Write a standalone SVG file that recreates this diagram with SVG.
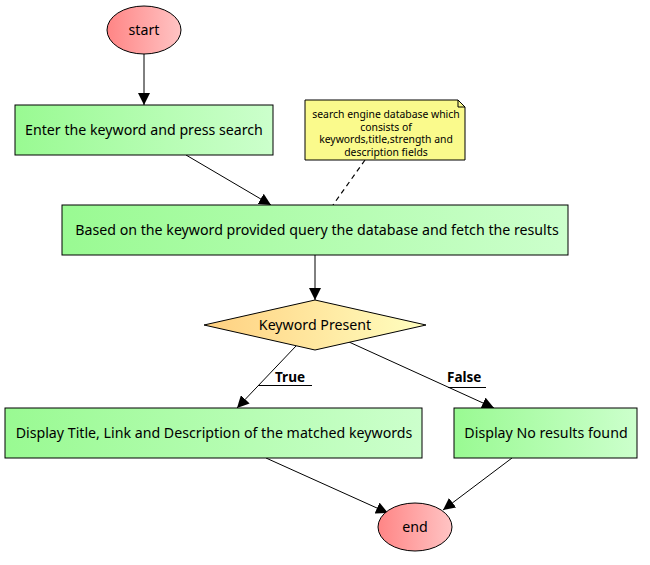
<svg xmlns="http://www.w3.org/2000/svg" width="650" height="565" viewBox="0 0 650 565">
<defs>
<linearGradient id="gGreen" x1="0" y1="0" x2="1" y2="0"><stop offset="0" stop-color="#99fa92"/><stop offset="1" stop-color="#ccffcc"/></linearGradient>
<linearGradient id="gRed" x1="0" y1="0" x2="1" y2="0"><stop offset="0" stop-color="#ff8585"/><stop offset="1" stop-color="#ffc4c4"/></linearGradient>
<linearGradient id="gOrange" x1="0" y1="0" x2="1" y2="0"><stop offset="0" stop-color="#ffd080"/><stop offset="1" stop-color="#ffffc0"/></linearGradient>
<marker id="arr" viewBox="0 0 10 10" refX="10" refY="5" markerWidth="12" markerHeight="12" markerUnits="userSpaceOnUse" orient="auto"><path d="M0,0 L10,5 L0,10 Z" fill="#000"/></marker>
</defs>
<style>
.box{fill:url(#gGreen);stroke:#000;stroke-width:1}
.term{fill:url(#gRed);stroke:#000;stroke-width:1}
.t{font-family:"Noto Sans","Open Sans",sans-serif;font-size:14.2px;fill:#000;text-anchor:middle}
.n{font-family:"Noto Sans","Open Sans",sans-serif;font-size:10.4px;fill:#000;text-anchor:middle}
.lbl{font-family:"Noto Sans","Open Sans",sans-serif;font-size:13.5px;font-weight:bold;fill:#000}
.e{stroke:#000;stroke-width:1;fill:none;marker-end:url(#arr)}
</style>
<g id="connectors">
<line class="e" x1="144" y1="54" x2="144" y2="105"/>
<line class="e" x1="186" y1="155" x2="271" y2="205"/>
<line x1="365" y1="160" x2="333" y2="205" stroke="#000" stroke-width="1.2" stroke-dasharray="5,4"/>
<line class="e" x1="315" y1="255" x2="315" y2="300"/>
<line class="e" x1="296" y1="346" x2="237" y2="408"/>
<line class="e" x1="349" y1="342" x2="494" y2="408"/>
<line class="e" x1="266" y1="458" x2="388" y2="513"/>
<line class="e" x1="512" y1="458" x2="443" y2="510"/>
<text class="lbl" x="275" y="382">True</text>
<line x1="258" y1="385.5" x2="312" y2="385.5" stroke="#000"/>
<text class="lbl" x="447" y="382">False</text>
<line x1="448" y1="387.5" x2="486" y2="387.5" stroke="#000"/>
</g>
<g id="start"><ellipse class="term" cx="144" cy="30" rx="37" ry="24"/><text class="t" x="144" y="35">start</text></g>
<g id="enter"><rect class="box" x="15" y="105" width="258" height="50"/><text class="t" x="144" y="135">Enter the keyword and press search</text></g>
<g id="note"><path d="M305,100 H458 L465,107 V160 H305 Z" fill="#fafa8c" stroke="#000"/><path d="M458,100 V107 H465" fill="none" stroke="#000"/>
<text class="n" x="386" y="118">search engine database which</text>
<text class="n" x="386" y="130.5">consists of</text>
<text class="n" x="386" y="143">keywords,title,strength and</text>
<text class="n" x="386" y="155.5">description fields</text></g>
<g id="query"><rect class="box" x="62" y="205" width="506" height="50"/><text class="t" x="317" y="235">Based on the keyword provided query the database and fetch the results</text></g>
<g id="decision"><path d="M315,300 L426,325 L315,350 L204,325 Z" fill="url(#gOrange)" stroke="#000"/><text class="t" x="315" y="330">Keyword Present</text></g>
<g id="display"><rect class="box" x="5" y="408" width="417" height="50"/><text class="t" x="214" y="438">Display Title, Link and Description of the matched keywords</text></g>
<g id="noresults"><rect class="box" x="454" y="408" width="183" height="50"/><text class="t" x="546" y="438">Display No results found</text></g>
<g id="end"><ellipse class="term" cx="415" cy="527" rx="37" ry="24"/><text class="t" x="415" y="532">end</text></g>
</svg>
